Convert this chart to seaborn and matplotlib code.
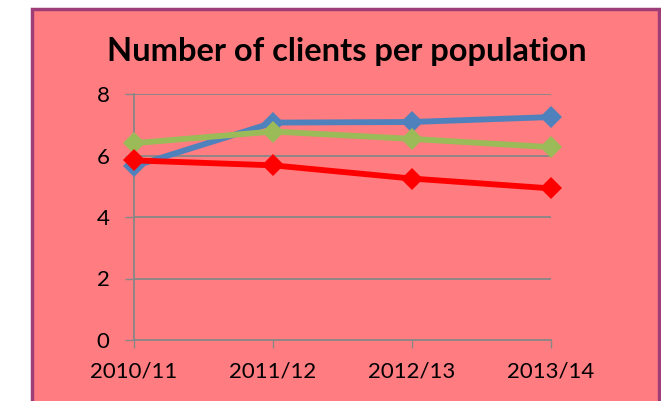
import matplotlib
matplotlib.use('Agg')
import matplotlib.pyplot as plt
import seaborn as sns
import pandas as pd
from matplotlib.patches import Rectangle

# === データ ===
years = ['2010/11', '2011/12', '2012/13', '2013/14']
blue_vals = [5.65, 7.07, 7.09, 7.25]
green_vals = [6.40, 6.78, 6.54, 6.27]
red_vals = [5.84, 5.68, 5.25, 4.93]
series_names = ['Series A', 'Series B', 'Series C']
series_colors = ['#4F81BD', '#9BBB59', '#FF0000']

df = pd.DataFrame({
    'year': years * 3,
    'x': list(range(len(years))) * 3,
    'value': blue_vals + green_vals + red_vals,
    'series': [s for s in series_names for _ in years],
})

sns.set_style('white')
plt.rcParams['font.family'] = ['Lato', 'DejaVu Sans']
plt.rcParams['text.color'] = 'black'

fig = plt.figure(figsize=(6.61, 4.01), dpi=100)
fig.patch.set_facecolor('white')

# 背景の枠
bg = Rectangle((32 / 661, -0.05), (659 - 32) / 661, (401 - 8.5) / 401 + 0.05,
               transform=fig.transFigure, facecolor='#FF7C80',
               edgecolor='#9E3D78', linewidth=2.5, zorder=0)
fig.patches.append(bg)

ax = fig.add_axes([134 / 661, 61 / 401, 417 / 661, 246 / 401])
ax.set_facecolor('none')
ax.set_zorder(5)

sns.lineplot(data=df, x='x', y='value', hue='series', palette=series_colors,
             marker='D', markersize=11, markeredgewidth=0, linewidth=4.2,
             legend=False, ax=ax, zorder=3)
for line in ax.lines:
    line.set_clip_on(False)

ax.set_xlim(0, 3)
ax.set_ylim(0, 8)
ax.set_xticks(range(len(years)))
ax.set_xticklabels(years)
ax.set_yticks([0, 2, 4, 6, 8])
ax.set_xlabel('')
ax.set_ylabel('')

grid_c = '#878787'
for yv in [2, 4, 6, 8]:
    ax.axhline(yv, color=grid_c, linewidth=1.3, zorder=1)
for side in ['top', 'right']:
    ax.spines[side].set_visible(False)
for side in ['left', 'bottom']:
    ax.spines[side].set_color(grid_c)
    ax.spines[side].set_linewidth(1.3)

ax.tick_params(axis='y', length=6.5, width=1.0, color=grid_c, pad=11,
               labelsize=16, labelcolor='black', direction='out', left=True)
ax.tick_params(axis='x', length=5.5, width=1.0, color=grid_c, pad=10,
               labelsize=16, labelcolor='black', direction='out', bottom=True)

fig.text(347 / 661, (401 - 51) / 401, 'Number of clients per population',
         ha='center', va='center', fontsize=23.5, fontweight='bold',
         color='black')

fig.savefig('out.png', dpi=100, facecolor='white')
